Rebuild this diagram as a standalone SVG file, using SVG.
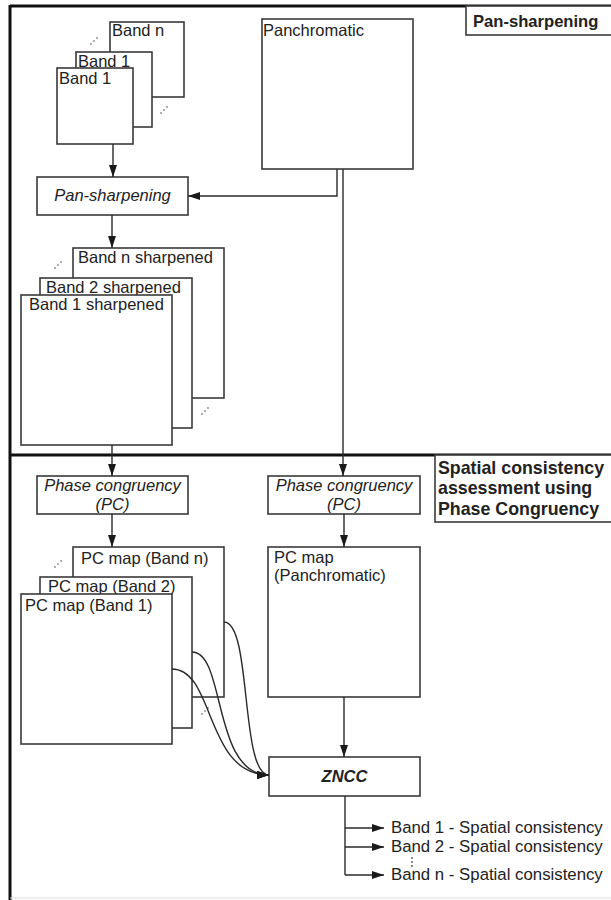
<svg xmlns="http://www.w3.org/2000/svg" width="611" height="900" viewBox="0 0 611 900">
<defs>
<marker id="ah" viewBox="0 0 12 8" refX="12" refY="4" markerWidth="12" markerHeight="8" markerUnits="userSpaceOnUse" orient="auto">
<path d="M0,0 L12,4 L0,8 Z" fill="#1a1a1a"/>
</marker>
</defs>
<style>
.box{fill:#fff;stroke:#3a3a3a;stroke-width:1.6}
.t{font-family:"Liberation Sans",Arial,sans-serif;font-size:16.5px;fill:#222}
.i{font-style:italic}
.b{font-weight:bold}
.c{stroke:#2a2a2a;stroke-width:1.4;fill:none}
.dot{fill:#888}
.frame{stroke:#111;stroke-width:3;fill:none}
</style>
<rect width="611" height="900" fill="#fff"/>
<g id="frame">
<line class="frame" x1="10" y1="6" x2="611" y2="6"/>
<line class="frame" x1="10" y1="5" x2="10" y2="900"/>
<line class="frame" x1="10" y1="455" x2="611" y2="455"/>
<line x1="10" y1="898" x2="611" y2="898" stroke="#ddd" stroke-width="1"/>
</g>
<g id="label-pansharpening">
<rect class="box" x="466" y="6" width="150" height="29"/>
<text class="t b" x="473" y="27" style="font-size:16.6px">Pan-sharpening</text>
</g>
<g id="label-spatial">
<rect class="box" x="435" y="455" width="180" height="67"/>
<text class="t b" x="438" y="474" style="font-size:17.8px">Spatial consistency</text>
<text class="t b" x="438" y="494" style="font-size:17.8px">assessment using</text>
<text class="t b" x="438" y="515" style="font-size:17.8px">Phase Congruency</text>
</g>
<g id="bands">
<rect class="box" x="110" y="22" width="74" height="75"/>
<text class="t" x="112" y="36">Band n</text>
<rect class="box" x="76" y="52" width="76" height="75"/>
<text class="t" x="78" y="67">Band 1</text>
<rect class="box" x="57" y="68" width="76" height="76"/>
<text class="t" x="59" y="84">Band 1</text>
<circle class="dot" cx="91" cy="44" r="0.9"/><circle class="dot" cx="94" cy="41" r="0.9"/><circle class="dot" cx="97" cy="38" r="0.9"/>
<circle class="dot" cx="161" cy="113" r="0.9"/><circle class="dot" cx="164" cy="110" r="0.9"/><circle class="dot" cx="167" cy="107" r="0.9"/>
</g>
<g id="panchromatic">
<rect class="box" x="262" y="19" width="151" height="150"/>
<text class="t" x="263" y="36">Panchromatic</text>
</g>
<g id="pansharpening-proc">
<rect class="box" x="37" y="177" width="151" height="38"/>
<text class="t i" x="112.5" y="201" text-anchor="middle">Pan-sharpening</text>
</g>
<g id="sharpened">
<rect class="box" x="73" y="248" width="151" height="150"/>
<text class="t" x="78" y="263">Band n sharpened</text>
<rect class="box" x="40" y="278" width="152" height="150"/>
<text class="t" x="46" y="293">Band 2 sharpened</text>
<rect class="box" x="21" y="295" width="151" height="150"/>
<text class="t" x="29" y="310">Band 1 sharpened</text>
<circle class="dot" cx="55" cy="268" r="0.9"/><circle class="dot" cx="58" cy="265" r="0.9"/><circle class="dot" cx="61" cy="262" r="0.9"/>
<circle class="dot" cx="202" cy="414" r="0.9"/><circle class="dot" cx="205" cy="411" r="0.9"/><circle class="dot" cx="208" cy="408" r="0.9"/>
</g>
<g id="pc-left">
<rect class="box" x="37" y="476" width="151" height="38"/>
<text class="t i" x="112.5" y="491" text-anchor="middle">Phase congruency</text>
<text class="t i" x="112.5" y="510" text-anchor="middle">(PC)</text>
</g>
<g id="pc-right">
<rect class="box" x="268" y="476" width="152" height="38"/>
<text class="t i" x="344" y="491" text-anchor="middle">Phase congruency</text>
<text class="t i" x="344" y="510" text-anchor="middle">(PC)</text>
</g>
<g id="pcmaps">
<rect class="box" x="73" y="547" width="151" height="150"/>
<text class="t" x="81" y="564">PC map (Band n)</text>
<rect class="box" x="40" y="577" width="152" height="151"/>
<text class="t" x="48" y="592">PC map (Band 2)</text>
<rect class="box" x="21" y="594" width="151" height="150"/>
<text class="t" x="25" y="611">PC map (Band 1)</text>
<circle class="dot" cx="55" cy="567" r="0.9"/><circle class="dot" cx="58" cy="564" r="0.9"/><circle class="dot" cx="61" cy="561" r="0.9"/>
<circle class="dot" cx="202" cy="714" r="0.9"/><circle class="dot" cx="205" cy="711" r="0.9"/><circle class="dot" cx="208" cy="708" r="0.9"/>
</g>
<g id="pcmap-pan">
<rect class="box" x="268" y="547" width="152" height="150"/>
<text class="t" x="274" y="563">PC map</text>
<text class="t" x="274" y="581">(Panchromatic)</text>
</g>
<g id="zncc">
<rect class="box" x="269" y="757" width="151" height="39"/>
<text class="t i b" x="344.5" y="782" text-anchor="middle">ZNCC</text>
</g>
<g id="outputs">
<text class="t" x="391" y="833" style="font-size:16.8px">Band 1 - Spatial consistency</text>
<text class="t" x="391" y="852" style="font-size:16.8px">Band 2 - Spatial consistency</text>
<circle cx="412" cy="858" r="0.9" fill="#555"/><circle cx="412" cy="862" r="0.9" fill="#555"/><circle cx="412" cy="866" r="0.9" fill="#555"/>
<text class="t" x="391" y="880" style="font-size:16.8px">Band n - Spatial consistency</text>
</g>
<g id="connectors">
<line class="c" x1="113" y1="144" x2="113" y2="177" marker-end="url(#ah)"/>
<polyline class="c" points="337,169 337,196 188,196" marker-end="url(#ah)"/>
<line class="c" x1="343" y1="169" x2="343" y2="476" marker-end="url(#ah)"/>
<line class="c" x1="112" y1="215" x2="112" y2="248" marker-end="url(#ah)"/>
<line class="c" x1="112" y1="445" x2="112" y2="476" marker-end="url(#ah)"/>
<line class="c" x1="112" y1="514" x2="112" y2="547" marker-end="url(#ah)"/>
<line class="c" x1="344" y1="514" x2="344" y2="547" marker-end="url(#ah)"/>
<line class="c" x1="344" y1="697" x2="344" y2="757" marker-end="url(#ah)"/>
<path class="c" d="M224,622 C252,622 240,775 269,775" marker-end="url(#ah)"/>
<path class="c" d="M192,652 C226,652 212,775 269,775" marker-end="url(#ah)"/>
<path class="c" d="M172,669 C215,669 205,775 269,775" marker-end="url(#ah)"/>
<line class="c" x1="345" y1="796" x2="345" y2="875"/>
<line class="c" x1="345" y1="828" x2="384" y2="828" marker-end="url(#ah)"/>
<line class="c" x1="345" y1="847" x2="384" y2="847" marker-end="url(#ah)"/>
<line class="c" x1="345" y1="875" x2="384" y2="875" marker-end="url(#ah)"/>
</g>
</svg>
